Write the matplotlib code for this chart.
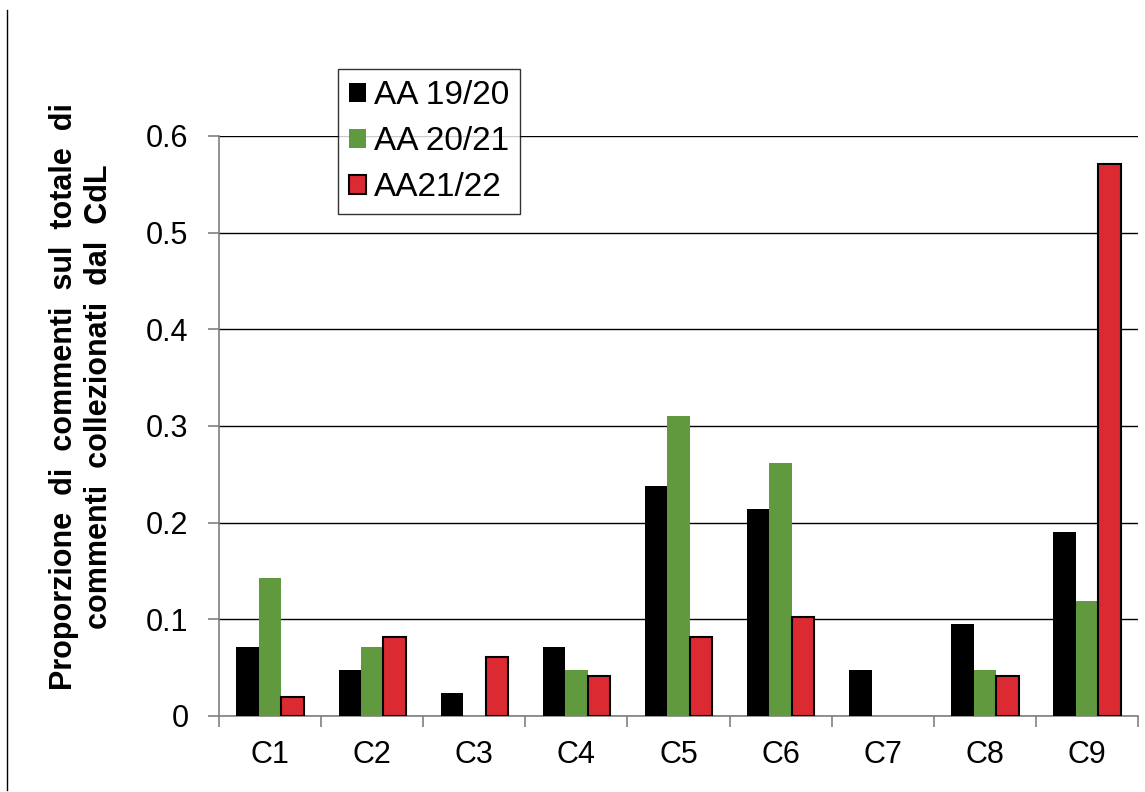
import numpy as np
import matplotlib.pyplot as plt
from matplotlib.lines import Line2D

plt.rcParams['font.family'] = ['Liberation Sans', 'DejaVu Sans']

# data
categories = ['C1', 'C2', 'C3', 'C4', 'C5', 'C6', 'C7', 'C8', 'C9']
aa_1920 = [0.071, 0.048, 0.024, 0.071, 0.238, 0.214, 0.048, 0.095, 0.190]
aa_2021 = [0.143, 0.071, 0.0, 0.048, 0.310, 0.262, 0.0, 0.048, 0.119]
aa_2122 = [0.020, 0.082, 0.061, 0.041, 0.082, 0.102, 0.0, 0.041, 0.571]
series_names = ['AA 19/20', 'AA 20/21', 'AA21/22']
yticks = [0, 0.1, 0.2, 0.3, 0.4, 0.5, 0.6]

fig = plt.figure(figsize=(11.45, 7.92), dpi=100)
ax = fig.add_axes([0.1913, 0.096, 0.8026, 0.7323])

x = np.arange(len(categories))
w = 0.22
ax.bar(x - w, aa_1920, w, color='black', label=series_names[0], zorder=3)
ax.bar(x, aa_2021, w, color='#619a3e', label=series_names[1], zorder=3)
reds = [v if v > 0 else np.nan for v in aa_2122]
ax.bar(x + w, reds, w, color='#dc2a33', edgecolor='black', linewidth=1.5,
       label=series_names[2], zorder=3)

ax.set_xlim(-0.5, len(categories) - 0.5)
ax.set_ylim(0, 0.6)
ax.set_yticks(yticks)
ax.set_yticklabels(['0'] + ['%.1f' % t for t in yticks[1:]])
ax.yaxis.grid(True, color='black', linewidth=1.0, zorder=0)

# category labels centred, ticks at boundaries
ax.set_xticks(np.arange(len(categories) + 1) - 0.5)
ax.set_xticklabels([])
ax.set_xticks(x, minor=True)
ax.set_xticklabels(categories, minor=True)
ax.tick_params(axis='x', which='minor', length=0, pad=17, labelsize=22)
ax.tick_params(axis='x', which='major', direction='out', length=8,
               width=1.2, color='#808080')
ax.tick_params(axis='y', direction='out', length=8, width=1.2,
               color='#808080', labelsize=22, pad=14)

for s in ['top', 'right']:
    ax.spines[s].set_visible(False)
ax.spines['left'].set_color('#808080')
ax.spines['bottom'].set_color('#808080')
ax.spines['left'].set_linewidth(1.2)
ax.spines['bottom'].set_linewidth(1.2)

ax.set_ylabel('Proporzione  di  commenti  sul  totale  di\ncommenti  collezionati  dal  CdL',
              fontsize=22, fontweight='bold', linespacing=1.25)
ax.yaxis.set_label_coords(-0.114, 0.55)

leg = ax.legend(loc='upper left', bbox_to_anchor=(0.1295, 1.1155), fontsize=24,
                frameon=True, fancybox=False, edgecolor='black',
                handlelength=0.5, handleheight=0.5, handletextpad=0.25,
                borderpad=0.33, labelspacing=0.45, borderaxespad=0)
leg.get_frame().set_linewidth(1.0)
leg.set_zorder(5)

# thin left border line from the source document
fig.add_artist(Line2D([0.0061, 0.0061], [0.003, 0.987], color='black', linewidth=1.0))

fig.savefig('out.png', dpi=100)
